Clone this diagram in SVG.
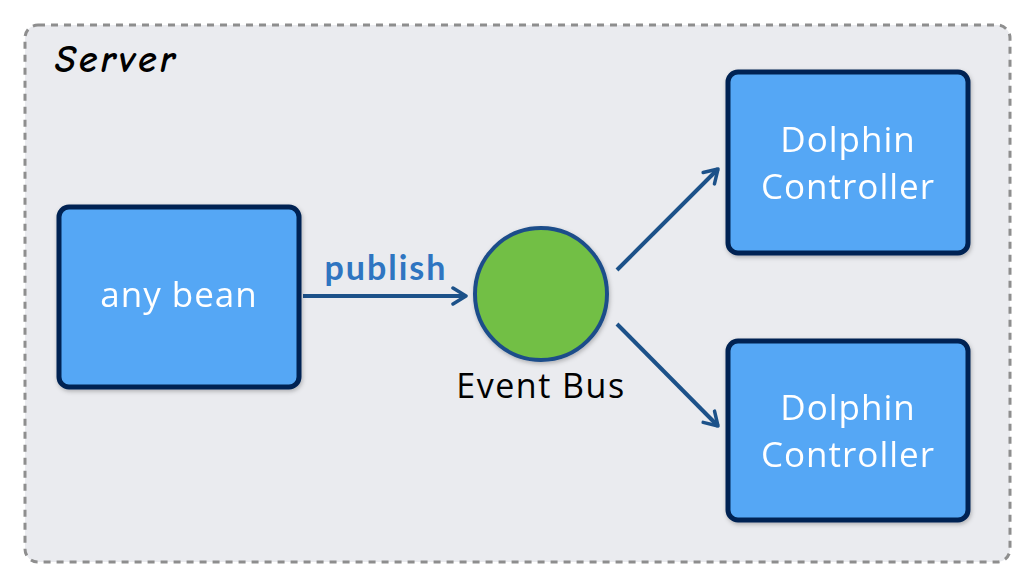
<svg xmlns="http://www.w3.org/2000/svg" width="1030" height="584" viewBox="0 0 1030 584">
<defs>
<style>
.box{fill:#55a7f5;stroke:#012452;stroke-width:5;}
.lbl{font-family:"Open Sans","DejaVu Sans",sans-serif;font-size:35px;letter-spacing:1px;fill:#ffffff;text-anchor:middle;}
.edge{stroke:#1c5189;stroke-width:4;fill:none;}
</style>
<marker id="ah" viewBox="0 0 20 20" refX="17" refY="10" markerWidth="20" markerHeight="20" markerUnits="userSpaceOnUse" orient="auto">
<path d="M4,2 L17,10 L4,18" fill="none" stroke="#1c5189" stroke-width="3.5" stroke-linecap="round" stroke-linejoin="round"/>
</marker>
<filter id="sh" x="-10%" y="-10%" width="120%" height="120%">
<feDropShadow dx="1" dy="2" stdDeviation="2" flood-color="#000" flood-opacity="0.25"/>
</filter>
</defs>
<rect width="1030" height="584" fill="#ffffff"/>
<g id="server">
<rect x="25" y="25" width="985" height="537" rx="13" fill="#eaebef" stroke="#8e8e8e" stroke-width="3" stroke-dasharray="7,6"/>
<text x="55" y="72" font-family="'Comic Neue','DejaVu Sans',sans-serif" font-weight="bold" font-style="italic" font-size="38" letter-spacing="3" fill="#000">Server</text>
</g>
<g id="connectors">
<line class="edge" x1="303" y1="296" x2="466" y2="296" marker-end="url(#ah)"/>
<line class="edge" x1="617" y1="270" x2="718" y2="169" marker-end="url(#ah)"/>
<line class="edge" x1="617" y1="324" x2="718" y2="426" marker-end="url(#ah)"/>
<text x="386" y="280" font-family="'Lato','DejaVu Sans',sans-serif" font-weight="bold" font-size="34" letter-spacing="2" fill="#2f75c1" text-anchor="middle">publish</text>
</g>
<g id="anybean" filter="url(#sh)">
<rect class="box" x="59" y="207" width="240" height="180" rx="10"/>
<text class="lbl" x="179" y="307">any bean</text>
</g>
<g id="eventbus">
<circle cx="541" cy="294" r="66" fill="#72bf44" stroke="#1f4e8a" stroke-width="4" filter="url(#sh)"/>
<text x="541" y="398" font-family="'Open Sans','DejaVu Sans',sans-serif" font-size="34" letter-spacing="1.5" fill="#000" text-anchor="middle">Event Bus</text>
</g>
<g id="dolphin1" filter="url(#sh)">
<rect class="box" x="728" y="72" width="240" height="181" rx="10"/>
<text class="lbl" x="848" y="152">Dolphin</text>
<text class="lbl" x="848" y="199">Controller</text>
</g>
<g id="dolphin2" filter="url(#sh)">
<rect class="box" x="728" y="341" width="240" height="179" rx="10"/>
<text class="lbl" x="848" y="420">Dolphin</text>
<text class="lbl" x="848" y="467">Controller</text>
</g>
</svg>
